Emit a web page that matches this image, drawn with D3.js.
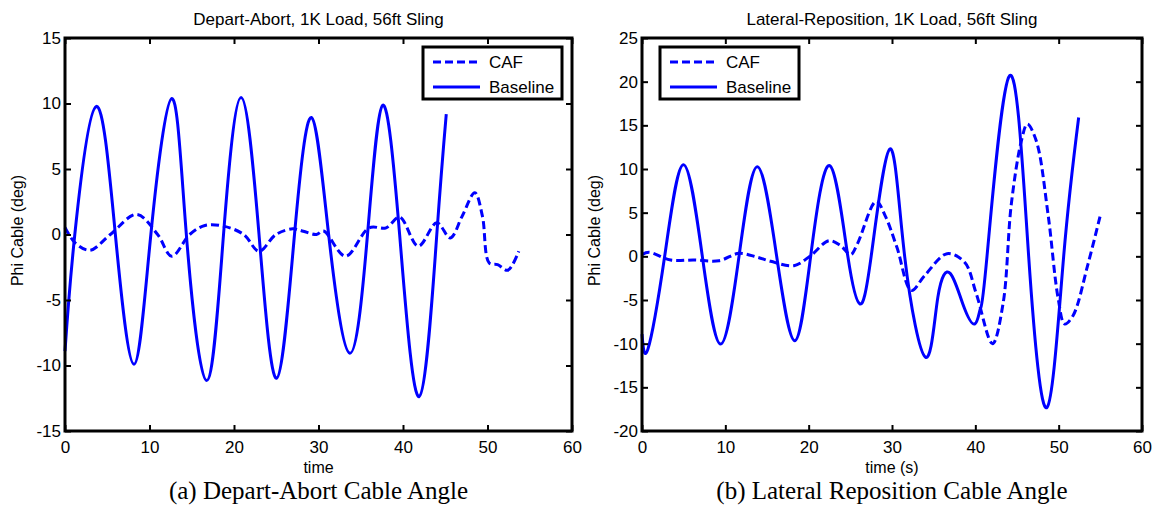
<!DOCTYPE html>
<html>
<head>
<meta charset="utf-8">
<script src="https://cdn.jsdelivr.net/npm/d3@7"></script>
<style>
  html, body { margin: 0; padding: 0; background: #fff; }
  svg { display: block; }
</style>
</head>
<body>
<svg id="chart" width="1161" height="517"></svg>
<script>
// ---- data ----
const xTicks = [0, 10, 20, 30, 40, 50, 60];
const yTicksA = [-15, -10, -5, 0, 5, 10, 15];
const yTicksB = [-20, -15, -10, -5, 0, 5, 10, 15, 20, 25];
const legendLabels = ["CAF", "Baseline"];

// (a) Depart-Abort
const departBaseT = [0, 1.16, 3.68, 5.96, 8.16, 10.16, 12.64, 14.36, 16.76, 18.76, 20.84, 22.96, 25.04, 27.16, 29.16, 31.2, 33.72, 35.8, 37.6, 39.6, 41.92, 44.0, 45.12];
const departBaseV = [-8.9, 0, 9.77, 0, -9.9, 0, 10.38, 0, -11.15, 0, 10.46, 0, -10.97, 0, 8.93, 0, -9.06, 0, 9.87, 0, -12.37, 0, 9.18];
const departCafT = [0, 1.2, 2.96, 5.36, 8.48, 10.96, 12.64, 14.76, 16.56, 18.76, 21.16, 22.96, 24.96, 26.96, 28.2, 29.76, 30.6, 33.2, 36.0, 38.0, 39.6, 41.8, 44.0, 45.6, 47.0, 48.5, 49.4, 50.2, 51.2, 52.4, 53.7];
const departCafV = [0.55, -0.64, -1.2, 0, 1.53, 0, -1.66, 0, 0.69, 0.64, 0, -1.28, 0, 0.43, 0.25, 0, 0.26, -1.66, 0.51, 0.51, 1.33, -0.89, 0.89, -0.26, 1.4, 3.19, 1.4, -2.17, -2.3, -2.73, -1.28];

// (b) Lateral-Reposition
const lateralBaseT = [0, 0.72, 2.72, 4.96, 7.24, 9.44, 11.64, 13.84, 16.16, 18.32, 20.24, 22.52, 24.7, 26.16, 27.5, 29.74, 31.52, 34.04, 35.5, 36.98, 38.5, 39.92, 40.6, 41.4, 44.12, 46.4, 48.6, 50.6, 52.4];
const lateralBaseV = [-8.9, -10.6, 0, 10.5, 0, -10.04, 0, 10.27, 0, -9.66, 0, 10.38, 0, -5.46, 0, 12.29, 0, -11.56, -4.7, -1.95, -5.46, -7.75, -6.0, 0, 20.69, 0, -17.3, 0, 15.9];
const lateralCafT = [0, 0.84, 3.44, 6.24, 9.24, 11.64, 13.84, 15.44, 18.24, 20.24, 22.44, 23.84, 25.04, 25.84, 28.1, 29.2, 30.6, 32.32, 33.92, 36.6, 38.72, 40.12, 42.06, 43.32, 44.32, 45.52, 46.24, 47.32, 48.72, 49.92, 50.72, 51.72, 53.52, 55.0];
const lateralCafV = [0.2, 0.46, -0.42, -0.42, -0.5, 0.34, -0.11, -0.57, -1.07, 0.08, 1.79, 1.22, 0.19, 1.41, 6.3, 4.6, 1.0, -3.9, -2.2, 0.3, -0.69, -4.3, -10.0, -5.46, 6.0, 13.2, 15.15, 13.2, 4.85, -4.7, -7.75, -6.8, -0.88, 4.7];

const BLUE = "#0000ff";
const SANS = "'Liberation Sans', Arial, sans-serif";
const SERIF = "'Liberation Serif', 'Times New Roman', serif";

const svg = d3.select("#chart");
svg.append("rect").attr("width", 1161).attr("height", 517).attr("fill", "#fff");

const zip = (ts, vs) => ts.map((t, i) => ({ t, v: vs[i] }));
const plain = d => String(d);   // matlab uses a hyphen, not the unicode minus

function drawPanel(p) {
  const x = d3.scaleLinear().domain([0, 60]).range([p.left, p.right]);
  const y = d3.scaleLinear().domain(p.yDomain).range([p.bottom, p.top]);
  const g = svg.append("g");

  const baseLine = d3.line()
    .x(d => x(d.t))
    .y(d => y(d.v))
    .curve(d3.curveNatural);
  const cafLine = d3.line()
    .x(d => x(d.t))
    .y(d => y(d.v))
    .curve(d3.curveCatmullRom.alpha(0.5));

  g.append("path")
    .datum(zip(p.cafT, p.cafV))
    .attr("d", cafLine)
    .attr("fill", "none")
    .attr("stroke", BLUE)
    .attr("stroke-width", 3)
    .attr("stroke-dasharray", "8,4");

  g.append("path")
    .datum(zip(p.baseT, p.baseV))
    .attr("d", baseLine)
    .attr("fill", "none")
    .attr("stroke", BLUE)
    .attr("stroke-width", 3);

  // axes: bottom/left with labels, top/right ticks only (matlab box)
  const tk = 6;
  g.append("g")
    .attr("transform", `translate(0,${p.bottom})`)
    .call(d3.axisBottom(x).tickValues(xTicks).tickSize(-tk).tickPadding(10).tickFormat(plain))
    .call(a => a.select(".domain").remove());
  g.append("g")
    .attr("transform", `translate(0,${p.top})`)
    .call(d3.axisTop(x).tickValues(xTicks).tickSize(-tk).tickFormat(""))
    .call(a => a.select(".domain").remove());
  g.append("g")
    .attr("transform", `translate(${p.left},0)`)
    .call(d3.axisLeft(y).tickValues(p.yTicks).tickSize(-tk).tickPadding(4).tickFormat(plain))
    .call(a => a.select(".domain").remove());
  g.append("g")
    .attr("transform", `translate(${p.right},0)`)
    .call(d3.axisRight(y).tickValues(p.yTicks).tickSize(-tk).tickFormat(""))
    .call(a => a.select(".domain").remove());

  g.selectAll(".tick line").attr("stroke", "#000").attr("stroke-width", 2);
  g.selectAll(".tick text")
    .attr("fill", "#000")
    .style("font", `17px ${SANS}`);

  g.append("rect")
    .attr("x", p.left).attr("y", p.top)
    .attr("width", p.right - p.left).attr("height", p.bottom - p.top)
    .attr("fill", "none").attr("stroke", "#000").attr("stroke-width", 3);

  const cx = (p.left + p.right) / 2;
  g.append("text")
    .attr("x", cx).attr("y", 25)
    .attr("text-anchor", "middle")
    .style("font", `17px ${SANS}`)
    .text(p.title);

  g.append("text")
    .attr("x", cx).attr("y", 473)
    .attr("text-anchor", "middle")
    .style("font", `16px ${SANS}`)
    .text(p.xLabel);

  g.append("text")
    .attr("transform", `translate(${p.left - 42},${(p.top + p.bottom) / 2 - 4}) rotate(-90)`)
    .attr("text-anchor", "middle")
    .style("font", `16px ${SANS}`)
    .text("Phi Cable (deg)");

  g.append("text")
    .attr("x", cx).attr("y", 499)
    .attr("text-anchor", "middle")
    .style("font", `25px ${SERIF}`)
    .text(p.caption);

  // legend
  const lg = g.append("g").attr("transform", `translate(${p.legendX},${p.top + 9})`);
  lg.append("rect")
    .attr("width", 139).attr("height", 52)
    .attr("fill", "#fff").attr("stroke", "#000").attr("stroke-width", 3);
  const row = lg.selectAll("g.row")
    .data(legendLabels)
    .join("g")
    .attr("class", "row")
    .attr("transform", (d, i) => `translate(0,${15 + i * 25})`);
  row.append("line")
    .attr("x1", 10).attr("x2", 57)
    .attr("stroke", BLUE).attr("stroke-width", 3)
    .attr("stroke-dasharray", d => d === "CAF" ? "8,4" : null);
  row.append("text")
    .attr("x", 66).attr("y", 6)
    .style("font", `17px ${SANS}`)
    .text(d => d);
}

drawPanel({
  left: 65, right: 572, top: 38, bottom: 431,
  yDomain: [-15, 15], yTicks: yTicksA,
  baseT: departBaseT, baseV: departBaseV,
  cafT: departCafT, cafV: departCafV,
  title: "Depart-Abort, 1K Load, 56ft Sling",
  xLabel: "time",
  caption: "(a) Depart-Abort Cable Angle",
  legendX: 423
});

drawPanel({
  left: 642, right: 1142, top: 38, bottom: 431,
  yDomain: [-20, 25], yTicks: yTicksB,
  baseT: lateralBaseT, baseV: lateralBaseV,
  cafT: lateralCafT, cafV: lateralCafV,
  title: "Lateral-Reposition, 1K Load, 56ft Sling",
  xLabel: "time (s)",
  caption: "(b) Lateral Reposition Cable Angle",
  legendX: 660
});
</script>
</body>
</html>
